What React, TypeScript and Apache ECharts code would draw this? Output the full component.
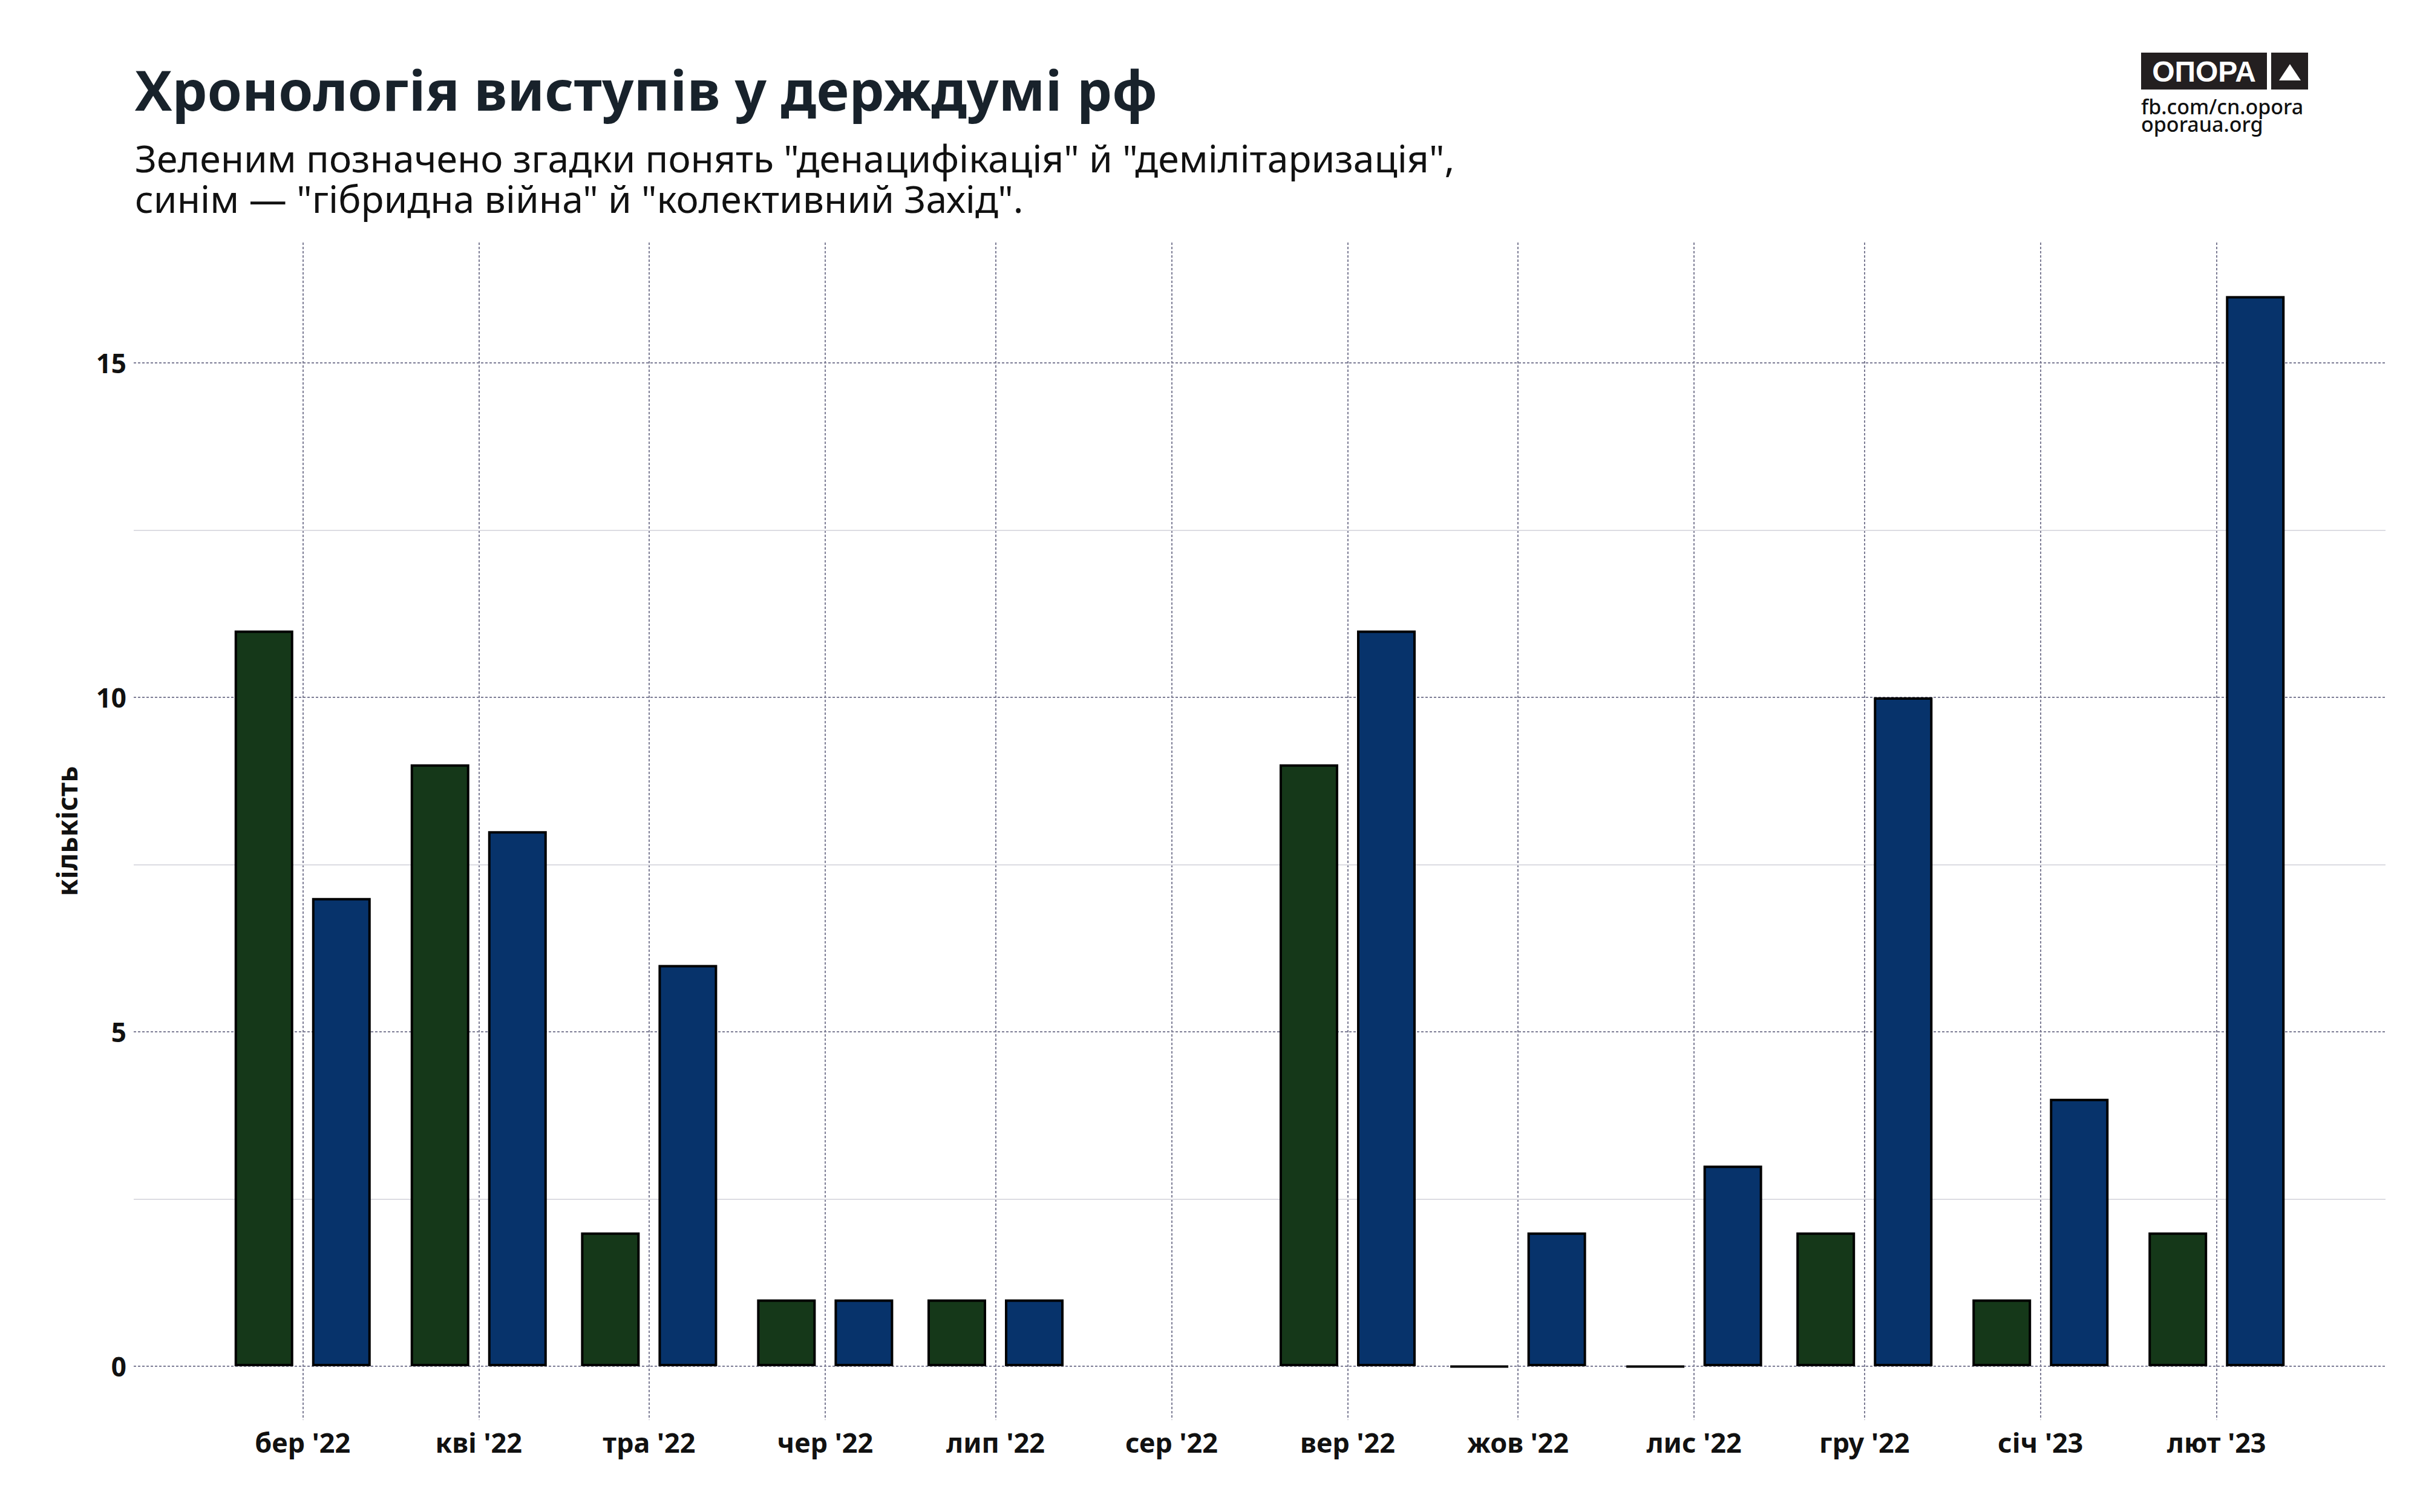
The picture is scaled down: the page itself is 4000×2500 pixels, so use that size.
import React, { useEffect, useRef } from 'react';
import * as echarts from 'echarts';

// ---- data ----
const monthStarts = [
  '2022-03-01', '2022-04-01', '2022-05-01', '2022-06-01', '2022-07-01', '2022-08-01',
  '2022-09-01', '2022-10-01', '2022-11-01', '2022-12-01', '2023-01-01', '2023-02-01',
];
const monthLabels = [
  "бер '22", "кві '22", "тра '22", "чер '22", "лип '22", "сер '22",
  "вер '22", "жов '22", "лис '22", "гру '22", "січ '23", "лют '23",
];
// green: "денацифікація" + "демілітаризація"
const greenValues: (number | null)[] = [11, 9, 2, 1, 1, null, 9, 0, 0, 2, 1, 2];
// blue: "гібридна війна" + "колективний Захід"
const blueValues: (number | null)[] = [7, 8, 6, 1, 1, null, 11, 2, 3, 10, 4, 16];

const yTickValues = [0, 5, 10, 15];
const minorGridValues = [2.5, 7.5, 12.5];
const yMin = -0.8;
const yMax = 16.8;
const xPadDays = 29.75;

const titleText = 'Хронологія виступів у держдумі рф';
const subtitleLines = [
  'Зеленим позначено згадки понять "денацифікація" й "демілітаризація",',
  'синім — "гібридна війна" й "колективний Захід".',
];
const yAxisTitle = 'кількість';
const logoWord = 'ОПОРА';
const logoLines = ['fb.com/cn.opora', 'oporaua.org'];

const FONT = '"Noto Sans", "DejaVu Sans", sans-serif';
const GREEN = '#153819';
const BLUE = '#07336b';
const GRID_DOT = '#7d7d95';

export default function App() {
  const ref = useRef<HTMLDivElement>(null);

  useEffect(() => {
    document.body.style.margin = '0';
    if (!ref.current) return;
    const chart = echarts.init(ref.current, undefined, { renderer: 'svg' });

    const DAY = 86400000;
    // day numbers (days since epoch, UTC) for month starts
    const days = monthStarts.map((d) => Date.parse(d + 'T00:00:00Z') / DAY);
    const labelByDay = new Map<number, string>();
    days.forEach((t, i) => labelByDay.set(t, monthLabels[i]));

    const toData = (vals: (number | null)[]) =>
      vals
        .map((v, i) => (v === null ? null : [days[i], v]))
        .filter((d) => d !== null);

    const barCommon = {
      type: 'bar',
      barWidth: 97,
      barGap: '32%',
      barMinHeight: 1,
      itemStyle: { borderColor: '#000000', borderWidth: 4 },
      emphasis: { disabled: true },
    };

    const logoTextStyle = {
      fill: '#111111',
      fontFamily: FONT,
      fontSize: 34,
      fontWeight: 500,
      align: 'left',
      verticalAlign: 'top',
      textAlign: 'left',
      textVerticalAlign: 'top',
    };

    const option = {
      animation: false,
      backgroundColor: '#ffffff',
      textStyle: { fontFamily: FONT },
      title: [
        {
          text: titleText,
          left: 223,
          top: 101,
          padding: 0,
          textStyle: { fontFamily: FONT, fontSize: 92, fontWeight: 'bold', color: '#18222b' },
        },
        {
          text: subtitleLines.join('\n'),
          left: 223,
          top: 227,
          padding: 0,
          textStyle: { fontFamily: FONT, fontSize: 62.5, fontWeight: 'normal', color: '#111111', lineHeight: 67 },
        },
      ],
      grid: { left: 221, right: 57, top: 401, bottom: 152.5, containLabel: false, outerBoundsMode: 'none' },
      xAxis: {
        type: 'value',
        min: days[0] - xPadDays,
        max: days[days.length - 1] + xPadDays,
        axisLine: { show: false, onZero: false },
        axisTick: { show: false, customValues: days },
        axisLabel: {
          customValues: days,
          margin: 14,
          fontFamily: FONT,
          fontSize: 45,
          fontWeight: 'bold',
          color: '#111111',
          formatter: (v: number) => labelByDay.get(Math.round(v)) ?? '',
        },
        splitLine: { show: true, lineStyle: { color: GRID_DOT, width: 2, type: [4, 3] } },
      },
      yAxis: {
        type: 'value',
        min: yMin,
        max: yMax,
        name: yAxisTitle,
        nameLocation: 'middle',
        nameRotate: 90,
        nameGap: 88,
        nameTextStyle: { fontFamily: FONT, fontSize: 46, fontWeight: 'bold', color: '#111111' },
        axisLine: { show: false },
        axisTick: { show: false, customValues: yTickValues },
        axisLabel: {
          customValues: yTickValues,
          margin: 12,
          fontFamily: FONT,
          fontSize: 44,
          fontWeight: 'bold',
          color: '#111111',
        },
        splitLine: { show: true, lineStyle: { color: GRID_DOT, width: 2, type: [4, 3] } },
      },
      series: [
        {
          ...barCommon,
          name: 'green',
          itemStyle: { ...barCommon.itemStyle, color: GREEN },
          data: toData(greenValues),
          markLine: {
            silent: true,
            z: 0,
            symbol: 'none',
            label: { show: false },
            lineStyle: { color: '#dcdce2', width: 2, type: 'solid' },
            emphasis: { disabled: true },
            data: minorGridValues.map((v) => ({ yAxis: v })),
          },
        },
        {
          ...barCommon,
          name: 'blue',
          itemStyle: { ...barCommon.itemStyle, color: BLUE },
          data: toData(blueValues),
        },
      ],
      graphic: [
        { type: 'rect', shape: { x: 3539, y: 87, width: 208, height: 61 }, style: { fill: '#231f20' } },
        { type: 'rect', shape: { x: 3754, y: 87, width: 61, height: 61 }, style: { fill: '#231f20' } },
        {
          type: 'polygon',
          shape: { points: [[3767, 133], [3803, 133], [3785, 106]] },
          style: { fill: '#ffffff' },
        },
        {
          type: 'text',
          x: 3643,
          y: 118,
          style: {
            text: logoWord,
            fill: '#ffffff',
            fontFamily: '"Liberation Sans", Arial, sans-serif',
            fontSize: 48,
            fontWeight: 'bold',
            align: 'center',
            verticalAlign: 'middle',
            textAlign: 'center',
            textVerticalAlign: 'middle',
          },
        },
        { type: 'text', x: 3539, y: 159, style: { ...logoTextStyle, text: logoLines[0] } },
        { type: 'text', x: 3539, y: 188, style: { ...logoTextStyle, text: logoLines[1] } },
      ],
    };

    chart.setOption(option as any);
    return () => {
      chart.dispose();
    };
  }, []);

  return <div ref={ref} style={{ width: 4000, height: 2500 }} />;
}
